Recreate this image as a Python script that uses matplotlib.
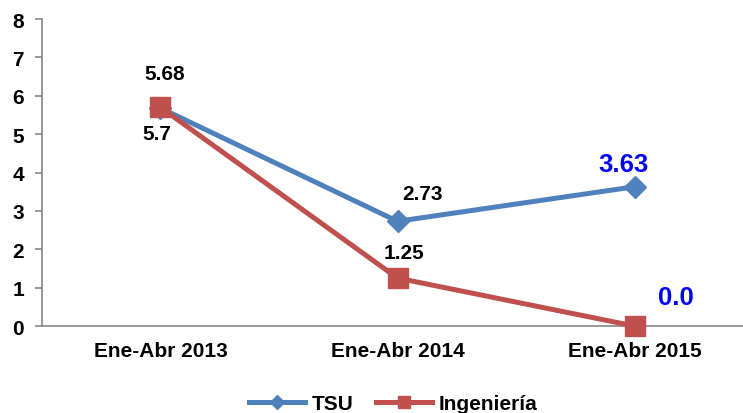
import matplotlib
matplotlib.use("Agg")
import matplotlib.pyplot as plt

categories = ["Ene-Abr 2013", "Ene-Abr 2014", "Ene-Abr 2015"]
tsu = [5.68, 2.73, 3.63]
ing = [5.7, 1.25, 0.0]
tsu_labels = ["5.68", "2.73", "3.63"]
ing_labels = ["5.7", "1.25", "0.0"]

plt.rcParams["font.family"] = ["Liberation Sans", "DejaVu Sans"]
plt.rcParams["font.weight"] = "bold"

fig = plt.figure(figsize=(7.43, 4.14), dpi=100)
ax = fig.add_axes([0.0565, 0.210, 0.957, 0.7415])

x = list(range(len(categories)))
ax.plot(x, tsu, color="#4F81BD", lw=3.6, marker="D", ms=11, label="TSU",
        zorder=3, clip_on=False)
ax.plot(x, ing, color="#C0504D", lw=3.6, marker="s", ms=14, label="Ingeniería",
        zorder=3, clip_on=False)

# label offsets in pixels, blue ones highlighted
tsu_off = [(4, 35), (25, 28), (-11, 23)]
ing_off = [(-4, -26), (6, 26), (41, 29)]
for i in x:
    blue = i == 2
    ax.annotate(tsu_labels[i], (i, tsu[i]), xytext=tsu_off[i], textcoords="offset pixels",
                ha="center", va="center", fontweight="bold",
                fontsize=18.5 if blue else 15, color="#0000FF" if blue else "black")
    ax.annotate(ing_labels[i], (i, ing[i]), xytext=ing_off[i], textcoords="offset pixels",
                ha="center", va="center", fontweight="bold",
                fontsize=18.5 if blue else 15, color="#0000FF" if blue else "black")

ax.set_xlim(-0.5, 2.5)
ax.set_ylim(0, 8)
ax.set_xticks(x)
ax.set_xticklabels(categories, fontsize=15, fontweight="bold")
ax.set_yticks(range(0, 9))
ax.tick_params(axis="y", labelsize=15, length=5, color="#868686", width=1.2, pad=8)
ax.tick_params(axis="x", length=0, pad=11)
for s in ["top", "right"]:
    ax.spines[s].set_visible(False)
ax.spines["left"].set_color("#868686")
ax.spines["bottom"].set_color("#868686")
ax.spines["left"].set_linewidth(1.2)
ax.spines["bottom"].set_linewidth(1.2)
for t in ax.get_yticklabels():
    t.set_fontweight("bold")

fig.legend(loc="lower center", bbox_to_anchor=(0.529, -0.046), ncol=2, frameon=False,
           prop={"size": 15, "weight": "bold"}, handlelength=2.7, handletextpad=0.3,
           columnspacing=1.1, markerscale=0.65)

fig.savefig("out.png", dpi=100)
